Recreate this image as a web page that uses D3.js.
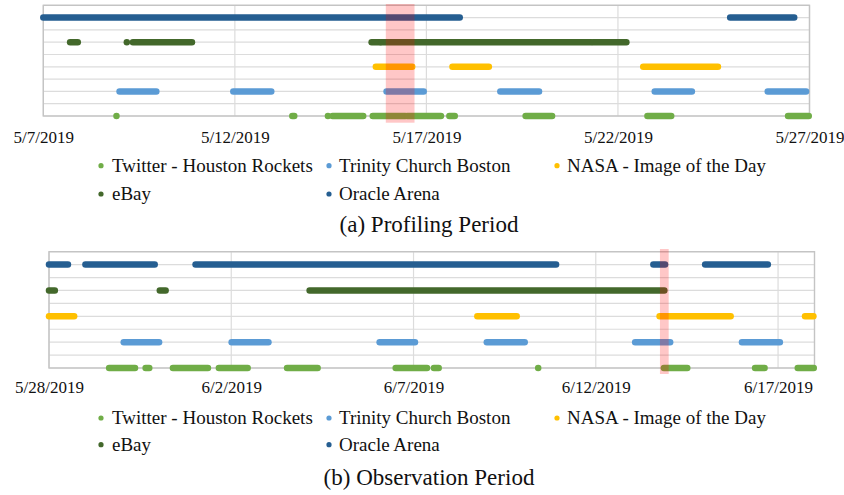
<!DOCTYPE html>
<html>
<head>
<meta charset="utf-8">
<script src="https://cdn.jsdelivr.net/npm/d3@7"></script>
<style>
  body { margin: 0; background: #fff; }
  text { font-family: "Liberation Serif", "Times New Roman", serif; fill: #111; }
</style>
</head>
<body>
<script>
// series names, colours, row on the y scale
const seriesNames = ["Twitter - Houston Rockets", "Trinity Church Boston", "NASA - Image of the Day", "eBay", "Oracle Arena"];
const seriesColors = ["#70ad47", "#5b9bd5", "#ffc000", "#43682b", "#255e91"];
const seriesRows = [0, 2, 4, 6, 8];

// activity intervals, in days since the period start [from, to]
const twitterA = [[1.91, 1.91], [6.5, 6.55], [7.43, 7.43], [7.55, 8.35], [8.6, 9.45], [9.5, 10.38], [10.6, 10.74], [12.59, 13.28], [15.77, 16.39], [19.44, 19.98]];
const trinityA = [[1.99, 2.95], [4.96, 5.95], [8.96, 9.93], [11.93, 12.94], [15.96, 16.93], [18.91, 19.91]];
const nasaA = [[8.68, 9.63], [10.68, 11.63], [15.66, 17.61]];
const ebayA = [[0.70, 0.90], [2.18, 2.18], [2.34, 3.88], [8.57, 8.79], [8.82, 14.3], [14.35, 15.22]];
const oracleA = [[0, 10.87], [17.93, 19.6]];
const bandA = [8.94, 9.69];

const twitterB = [[1.65, 2.36], [2.65, 2.75], [3.4, 4.36], [4.66, 5.45], [6.53, 7.37], [9.51, 10.37], [10.56, 10.69], [13.42, 13.42], [16.87, 17.51], [19.37, 19.63], [20.54, 20.98]];
const trinityB = [[2.05, 3.02], [5.01, 6.02], [9.07, 10.04], [12.01, 13.05], [16.08, 17.04], [19.01, 20.05]];
const nasaB = [[0, 0.69], [11.75, 12.83], [16.75, 18.7], [20.74, 20.97]];
const ebayB = [[0, 0.16], [3.04, 3.2], [7.15, 16.88]];
const oracleB = [[0, 0.52], [1.0, 2.9], [4.02, 13.91], [16.58, 16.9], [18.0, 19.72]];
const bandB = [16.76, 17.0];

// x ticks
const ticksA = ["2019-05-07", "2019-05-12", "2019-05-17", "2019-05-22", "2019-05-27"];
const ticksB = ["2019-05-28", "2019-06-02", "2019-06-07", "2019-06-12", "2019-06-17"];

const titleA = "(a) Profiling Period";
const titleB = "(b) Observation Period";

const W = 844, H = 495;
const svg = d3.select("body").append("svg").attr("width", W).attr("height", H);

const parseDay = d3.timeParse("%Y-%m-%d");
const fmt = d3.timeFormat("%-m/%-d/%Y");
const DAY = 864e5;

function drawPanel(cfg) {
    const start = parseDay(cfg.start), end = parseDay(cfg.end);
    const toDate = d => new Date(start.getTime() + d * DAY);

    const x = d3.scaleTime().domain([start, end]).range([cfg.left, cfg.right]);
    const y = d3.scaleLinear().domain([0, 9]).range([cfg.bottom, cfg.top]);
    const g = svg.append("g");

    // horizontal gridlines
    g.selectAll(".hgrid")
        .data(d3.range(0, 10))
        .join("line")
        .attr("x1", cfg.left).attr("x2", cfg.right)
        .attr("y1", d => y(d)).attr("y2", d => y(d))
        .attr("stroke", "#dcdcdc").attr("stroke-width", 1.2);

    const tickDates = cfg.ticks.map(parseDay);
    // vertical gridlines
    g.selectAll(".vgrid")
        .data(tickDates)
        .join("line")
        .attr("x1", d => x(d)).attr("x2", d => x(d))
        .attr("y1", cfg.top).attr("y2", cfg.bottom)
        .attr("stroke", "#dcdcdc").attr("stroke-width", 1.2);

    g.append("rect")
        .attr("x", cfg.left).attr("y", cfg.top)
        .attr("width", cfg.right - cfg.left).attr("height", cfg.bottom - cfg.top)
        .attr("fill", "none").attr("stroke", "#c4c4c4").attr("stroke-width", 1.4);

    // axis labels
    const axis = d3.axisBottom(x).tickValues(tickDates).tickFormat(fmt).tickSize(0).tickPadding(0);
    const ax = g.append("g").attr("transform", `translate(0,${cfg.bottom})`).call(axis);
    ax.select(".domain").remove();
    ax.selectAll("text")
        .attr("dy", null).attr("y", cfg.tickY - cfg.bottom)
        .style("font-family", "Liberation Serif").style("font-size", "17px").attr("fill", "#111");

    // series segments
    cfg.series.forEach((segs, i) => {
        g.append("g").selectAll("line")
            .data(segs)
            .join("line")
            .attr("x1", d => x(toDate(d[0]))).attr("x2", d => x(toDate(d[1])))
            .attr("y1", y(seriesRows[i])).attr("y2", y(seriesRows[i]))
            .attr("stroke", seriesColors[i])
            .attr("stroke-width", 6.5)
            .attr("stroke-linecap", "round");
    });

    // highlight band
    g.append("rect")
        .attr("x", x(toDate(cfg.band[0])))
        .attr("width", x(toDate(cfg.band[1])) - x(toDate(cfg.band[0])))
        .attr("y", cfg.bandTop).attr("height", cfg.bandBottom - cfg.bandTop)
        .attr("fill", "#ff0000").attr("fill-opacity", 0.22);

    // legend
    const legendPos = [
        [101, 112, cfg.legY[0]], [329, 339, cfg.legY[0]], [557, 567, cfg.legY[0]],
        [101, 112, cfg.legY[1]], [329, 339, cfg.legY[1]]
    ];
    const leg = g.append("g").selectAll("g")
        .data(seriesNames)
        .join("g");
    leg.append("circle")
        .attr("cx", (d, i) => legendPos[i][0])
        .attr("cy", (d, i) => legendPos[i][2] - 6)
        .attr("r", 2.6)
        .attr("fill", (d, i) => seriesColors[i]);
    leg.append("text")
        .attr("x", (d, i) => legendPos[i][1])
        .attr("y", (d, i) => legendPos[i][2])
        .style("font-size", "19px")
        .text(d => d);

    g.append("text")
        .attr("x", cfg.titleX).attr("y", cfg.titleY)
        .attr("text-anchor", "middle")
        .style("font-size", "23px")
        .text(cfg.title);
}

drawPanel({
    start: "2019-05-07", end: "2019-05-27",
    left: 43.3, right: 809.5, top: 5.3, bottom: 116,
    ticks: ticksA, tickY: 142.5,
    series: [twitterA, trinityA, nasaA, ebayA, oracleA],
    band: bandA, bandTop: 4, bandBottom: 122.7,
    legY: [171.7, 200], title: titleA, titleX: 429, titleY: 231.7
});

drawPanel({
    start: "2019-05-28", end: "2019-06-18",
    left: 49, right: 814.5, top: 251.7, bottom: 368,
    ticks: ticksB, tickY: 393.3,
    series: [twitterB, trinityB, nasaB, ebayB, oracleB],
    band: bandB, bandTop: 249, bandBottom: 374,
    legY: [424, 450.7], title: titleB, titleX: 429, titleY: 485
});
</script>
</body>
</html>
